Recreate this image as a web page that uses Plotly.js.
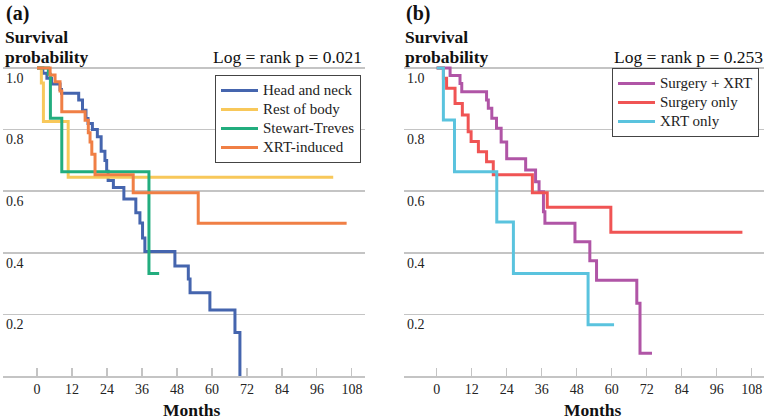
<!DOCTYPE html>
<html>
<head>
<meta charset="utf-8">
<script src="https://cdn.plot.ly/plotly-3.0.1.min.js"></script>
<style>
  body { margin: 0; background: #fff; }
  #plotly-div { width: 768px; height: 420px; }
</style>
</head>
<body>
<div id="plotly-div"></div>
<script>
// Kaplan-Meier steps: months, survival

// (a) by site
var hnMonths = [0, 2.0, 3.4, 5.0, 7.9, 8.4, 14.3, 15.6, 16.8, 17.5, 19.0, 20.7, 22.0, 23.3, 23.9, 24.4, 26.2, 29.8, 33.9, 35.3, 36.2, 37.0, 47.3, 51.9, 52.5, 59.3, 67.9, 69.6];
var hnSurv   = [1, 0.983, 0.967, 0.948, 0.93, 0.918, 0.896, 0.863, 0.836, 0.82, 0.80, 0.777, 0.73, 0.70, 0.665, 0.635, 0.612, 0.575, 0.53, 0.497, 0.448, 0.404, 0.357, 0.315, 0.27, 0.214, 0.141, 0];

var rbMonths = [0, 1.5, 2.2, 10.7, 101.6];
var rbSurv   = [1, 0.951, 0.826, 0.645, 0.645];

var stMonths = [0, 3.9, 4.6, 8.5, 38.4, 41.9];
var stSurv   = [1, 0.98, 0.837, 0.663, 0.333, 0.333];

var xrMonths = [0, 4.5, 6.2, 7.9, 8.5, 16.5, 17.6, 18.2, 18.8, 19.9, 33.0, 55.3, 106.2];
var xrSurv   = [1, 0.977, 0.955, 0.925, 0.858, 0.83, 0.79, 0.76, 0.72, 0.653, 0.595, 0.496, 0.496];

// (b) by treatment
var sxMonths = [0, 4.6, 8.0, 8.6, 17.1, 17.7, 18.9, 20.5, 22.1, 24.0, 30.5, 33.9, 35.1, 36.6, 37.1, 47.4, 52.5, 54.8, 68.6, 69.7, 73.8];
var sxSurv   = [1, 0.976, 0.95, 0.923, 0.896, 0.869, 0.837, 0.804, 0.76, 0.705, 0.669, 0.631, 0.598, 0.533, 0.496, 0.436, 0.374, 0.311, 0.236, 0.074, 0.074];

var soMonths = [0, 2.3, 3.4, 6.3, 8.8, 10.8, 11.8, 14.3, 17.1, 19.4, 32.8, 37.9, 59.7, 104.8];
var soSurv   = [1, 0.967, 0.934, 0.885, 0.847, 0.793, 0.761, 0.728, 0.696, 0.653, 0.595, 0.548, 0.467, 0.467];

var xoMonths = [0, 2.3, 6.1, 20.6, 26.3, 51.9, 60.8];
var xoSurv   = [1, 0.831, 0.663, 0.50, 0.333, 0.166, 0.166];

var monthTicks = [0, 12, 24, 36, 48, 60, 72, 84, 96, 108];
var survTicks = [0.2, 0.4, 0.6, 0.8, 1.0];
var survTickText = ['0.2', '0.4', '0.6', '0.8', '1.0'];

var serif = '"Liberation Serif", "Times New Roman", "DejaVu Serif", serif';

// legend rows are tight in the original, so the legend font is small
// and the label itself carries the bigger size
function km(name, x, y, color, xa, ya, leg) {
  return {
    x: x, y: y, type: 'scatter', mode: 'lines',
    name: '<span style="font-size:15px">' + name + '</span>',
    line: {shape: 'hv', color: color, width: 3},
    xaxis: xa, yaxis: ya, legend: leg
  };
}

var dataPlot = [
  km('Head and neck', hnMonths, hnSurv, '#4565ae', 'x', 'y', 'legend'),
  km('Rest of body', rbMonths, rbSurv, '#f8c85a', 'x', 'y', 'legend'),
  km('Stewart-Treves', stMonths, stSurv, '#22ad7e', 'x', 'y', 'legend'),
  km('XRT-induced', xrMonths, xrSurv, '#f07f45', 'x', 'y', 'legend'),
  km('Surgery + XRT', sxMonths, sxSurv, '#b055a6', 'x2', 'y2', 'legend2'),
  km('Surgery only', soMonths, soSurv, '#f05454', 'x2', 'y2', 'legend2'),
  km('XRT only', xoMonths, xoSurv, '#5ac3de', 'x2', 'y2', 'legend2')
];

var grid = '#c4c4c4';

function xAxis(domain, range, anchor) {
  return {
    domain: domain, range: range, anchor: anchor,
    tickvals: monthTicks, ticks: 'inside', ticklen: 8, tickwidth: 1.2, tickcolor: grid,
    showgrid: false, zeroline: false,
    showline: true, linecolor: grid, linewidth: 1.5,
    tickfont: {family: serif, size: 14, color: '#222'}
  };
}

function yAxis(anchor) {
  return {
    anchor: anchor,
    domain: [44 / 420, 0.8469], range: [0, 1.012],
    tickvals: survTicks, ticktext: survTickText,
    ticklabelposition: 'inside bottom', ticks: '',
    showgrid: true, gridcolor: grid, gridwidth: 1.5, zeroline: false, showline: false,
    tickfont: {family: serif, size: 14, color: '#222'}
  };
}

var leg = {
  font: {family: serif, size: 12, color: '#222'},
  bgcolor: '#fff', bordercolor: '#444', borderwidth: 1,
  xanchor: 'left', yanchor: 'top', tracegroupgap: 0, itemwidth: 37
};

function ann(text, px, py, size, bold, xanchor) {
  return {
    text: bold ? '<b>' + text + '</b>' : text,
    xref: 'paper', yref: 'paper', x: px / 768, y: 1 - py / 420,
    xanchor: xanchor, yanchor: 'middle', showarrow: false,
    font: {family: serif, size: size, color: '#111'}
  };
}

var layout = {
  width: 768, height: 420,
  margin: {l: 0, r: 0, t: 0, b: 0},
  paper_bgcolor: '#fff', plot_bgcolor: '#fff',
  showlegend: true,
  xaxis: xAxis([3 / 768, 365 / 768], [-11.66, 112.5], 'y'),
  xaxis2: xAxis([404 / 768, 764 / 768], [-11.2, 112.2], 'y2'),
  yaxis: yAxis('x'),
  yaxis2: yAxis('x2'),
  legend: Object.assign({x: 215 / 768, y: 1 - 75 / 420}, leg),
  legend2: Object.assign({x: 612 / 768, y: 1 - 68 / 420}, leg),
  annotations: [
    ann('(a)', 4, 14, 20, true, 'left'),
    ann('Survival', 3, 37, 17.5, true, 'left'),
    ann('probability', 3, 57, 17.5, true, 'left'),
    ann('Log = rank p = 0.021', 364, 57, 17.5, false, 'right'),
    ann('Months', 192, 410, 17.5, true, 'center'),
    ann('(b)', 404, 14, 20, true, 'left'),
    ann('Survival', 403, 37, 17.5, true, 'left'),
    ann('probability', 403, 57, 17.5, true, 'left'),
    ann('Log = rank p = 0.253', 765, 57, 17.5, false, 'right'),
    ann('Months', 593, 410, 17.5, true, 'center')
  ]
};

Plotly.newPlot('plotly-div', dataPlot, layout, {displayModeBar: false, staticPlot: true});
</script>
</body>
</html>
